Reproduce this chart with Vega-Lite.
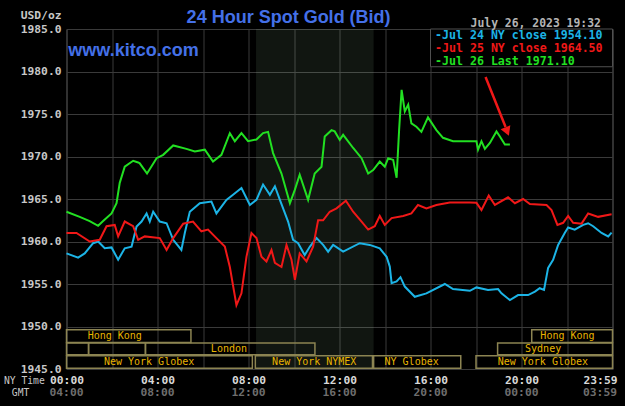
{
"$schema": "https://vega.github.io/schema/vega-lite/v6.json",
"width": 546, "height": 340,
"autosize": "none",
"padding": {"left": 66.5, "top": 29, "right": 12.5, "bottom": 37},
"background": "#000000",
"config": {
  "view": {"stroke": "#505050", "strokeWidth": 1},
  "axis": {"domain": false, "ticks": false, "gridColor": "#3a3a3a", "gridWidth": 1, "labelFont": "DejaVu Sans Mono", "labelFontWeight": "bold", "labelFontSize": 11.3, "titleFont": "DejaVu Sans Mono"}
},
"datasets": {
  "prices": [
{"s":"Jul 24","h":0.00,"p":1958.6},{"s":"Jul 24","h":0.51,"p":1958.1},{"s":"Jul 24","h":0.80,"p":1958.6},{"s":"Jul 24","h":1.17,"p":1959.8},{"s":"Jul 24","h":1.39,"p":1960.0},{"s":"Jul 24","h":1.68,"p":1959.2},{"s":"Jul 24","h":1.98,"p":1959.3},{"s":"Jul 24","h":2.27,"p":1957.85},{"s":"Jul 24","h":2.56,"p":1959.2},{"s":"Jul 24","h":2.86,"p":1959.4},{"s":"Jul 24","h":3.08,"p":1961.75},{"s":"Jul 24","h":3.30,"p":1962.35},{"s":"Jul 24","h":3.52,"p":1963.3},{"s":"Jul 24","h":3.66,"p":1962.35},{"s":"Jul 24","h":3.81,"p":1963.5},{"s":"Jul 24","h":4.10,"p":1962.35},{"s":"Jul 24","h":4.40,"p":1962.15},{"s":"Jul 24","h":4.69,"p":1960.2},{"s":"Jul 24","h":5.05,"p":1959.0},{"s":"Jul 24","h":5.20,"p":1961.0},{"s":"Jul 24","h":5.42,"p":1963.5},{"s":"Jul 24","h":5.86,"p":1964.5},{"s":"Jul 24","h":6.37,"p":1964.7},{"s":"Jul 24","h":6.59,"p":1963.3},{"s":"Jul 24","h":7.03,"p":1964.9},{"s":"Jul 24","h":7.32,"p":1965.5},{"s":"Jul 24","h":7.69,"p":1966.3},{"s":"Jul 24","h":8.06,"p":1964.3},{"s":"Jul 24","h":8.35,"p":1964.9},{"s":"Jul 24","h":8.64,"p":1966.7},{"s":"Jul 24","h":8.94,"p":1965.5},{"s":"Jul 24","h":9.16,"p":1966.5},{"s":"Jul 24","h":9.38,"p":1964.9},{"s":"Jul 24","h":9.74,"p":1962.35},{"s":"Jul 24","h":9.96,"p":1960.2},{"s":"Jul 24","h":10.18,"p":1959.8},{"s":"Jul 24","h":10.47,"p":1958.4},{"s":"Jul 24","h":10.70,"p":1959.4},{"s":"Jul 24","h":10.99,"p":1960.4},{"s":"Jul 24","h":11.28,"p":1959.6},{"s":"Jul 24","h":11.50,"p":1958.8},{"s":"Jul 24","h":11.72,"p":1959.6},{"s":"Jul 24","h":12.16,"p":1958.8},{"s":"Jul 24","h":12.89,"p":1959.8},{"s":"Jul 24","h":13.33,"p":1959.6},{"s":"Jul 24","h":13.77,"p":1959.2},{"s":"Jul 24","h":14.07,"p":1958.2},{"s":"Jul 24","h":14.21,"p":1957.05},{"s":"Jul 24","h":14.29,"p":1955.1},{"s":"Jul 24","h":14.51,"p":1955.3},{"s":"Jul 24","h":14.68,"p":1955.8},{"s":"Jul 24","h":14.87,"p":1954.7},{"s":"Jul 24","h":15.31,"p":1953.5},{"s":"Jul 24","h":15.82,"p":1953.9},{"s":"Jul 24","h":16.63,"p":1955.0},{"s":"Jul 24","h":16.99,"p":1954.4},{"s":"Jul 24","h":17.73,"p":1954.2},{"s":"Jul 24","h":18.02,"p":1954.6},{"s":"Jul 24","h":18.53,"p":1954.3},{"s":"Jul 24","h":18.97,"p":1954.4},{"s":"Jul 24","h":19.12,"p":1953.9},{"s":"Jul 24","h":19.49,"p":1953.1},{"s":"Jul 24","h":19.85,"p":1953.7},{"s":"Jul 24","h":20.29,"p":1953.7},{"s":"Jul 24","h":20.59,"p":1954.1},{"s":"Jul 24","h":20.80,"p":1954.5},{"s":"Jul 24","h":20.99,"p":1954.3},{"s":"Jul 24","h":21.17,"p":1956.9},{"s":"Jul 24","h":21.39,"p":1957.85},{"s":"Jul 24","h":21.61,"p":1959.6},{"s":"Jul 24","h":21.90,"p":1961.0},{"s":"Jul 24","h":22.05,"p":1961.65},{"s":"Jul 24","h":22.34,"p":1961.4},{"s":"Jul 24","h":22.71,"p":1961.95},{"s":"Jul 24","h":22.93,"p":1962.15},{"s":"Jul 24","h":23.15,"p":1961.8},{"s":"Jul 24","h":23.52,"p":1961.0},{"s":"Jul 24","h":23.81,"p":1960.6},{"s":"Jul 24","h":23.96,"p":1961.05},
{"s":"Jul 25","h":0.00,"p":1961.0},{"s":"Jul 25","h":0.44,"p":1961.0},{"s":"Jul 25","h":1.02,"p":1960.0},{"s":"Jul 25","h":1.46,"p":1960.2},{"s":"Jul 25","h":1.76,"p":1961.8},{"s":"Jul 25","h":2.12,"p":1961.95},{"s":"Jul 25","h":2.27,"p":1960.6},{"s":"Jul 25","h":2.56,"p":1962.35},{"s":"Jul 25","h":2.93,"p":1961.8},{"s":"Jul 25","h":3.15,"p":1960.2},{"s":"Jul 25","h":3.44,"p":1960.6},{"s":"Jul 25","h":4.10,"p":1960.4},{"s":"Jul 25","h":4.40,"p":1959.0},{"s":"Jul 25","h":4.69,"p":1960.4},{"s":"Jul 25","h":5.13,"p":1962.1},{"s":"Jul 25","h":5.56,"p":1962.35},{"s":"Jul 25","h":5.93,"p":1961.2},{"s":"Jul 25","h":6.22,"p":1961.4},{"s":"Jul 25","h":6.59,"p":1960.4},{"s":"Jul 25","h":6.96,"p":1959.4},{"s":"Jul 25","h":7.18,"p":1957.0},{"s":"Jul 25","h":7.47,"p":1952.5},{"s":"Jul 25","h":7.69,"p":1953.9},{"s":"Jul 25","h":7.91,"p":1958.2},{"s":"Jul 25","h":8.13,"p":1961.0},{"s":"Jul 25","h":8.35,"p":1960.4},{"s":"Jul 25","h":8.57,"p":1958.2},{"s":"Jul 25","h":8.79,"p":1957.65},{"s":"Jul 25","h":9.01,"p":1959.0},{"s":"Jul 25","h":9.16,"p":1957.5},{"s":"Jul 25","h":9.45,"p":1957.0},{"s":"Jul 25","h":9.67,"p":1959.6},{"s":"Jul 25","h":9.89,"p":1957.85},{"s":"Jul 25","h":10.04,"p":1955.5},{"s":"Jul 25","h":10.25,"p":1958.6},{"s":"Jul 25","h":10.55,"p":1957.65},{"s":"Jul 25","h":10.84,"p":1959.4},{"s":"Jul 25","h":11.06,"p":1962.5},{"s":"Jul 25","h":11.28,"p":1962.5},{"s":"Jul 25","h":11.57,"p":1963.5},{"s":"Jul 25","h":11.87,"p":1963.9},{"s":"Jul 25","h":12.28,"p":1964.8},{"s":"Jul 25","h":12.60,"p":1963.5},{"s":"Jul 25","h":12.97,"p":1962.35},{"s":"Jul 25","h":13.26,"p":1961.4},{"s":"Jul 25","h":13.55,"p":1961.8},{"s":"Jul 25","h":13.77,"p":1963.0},{"s":"Jul 25","h":13.99,"p":1961.95},{"s":"Jul 25","h":14.29,"p":1962.75},{"s":"Jul 25","h":14.80,"p":1963.0},{"s":"Jul 25","h":15.16,"p":1963.3},{"s":"Jul 25","h":15.45,"p":1964.3},{"s":"Jul 25","h":15.82,"p":1963.9},{"s":"Jul 25","h":16.26,"p":1964.3},{"s":"Jul 25","h":16.85,"p":1964.6},{"s":"Jul 25","h":17.73,"p":1964.6},{"s":"Jul 25","h":18.02,"p":1964.55},{"s":"Jul 25","h":18.24,"p":1963.7},{"s":"Jul 25","h":18.56,"p":1965.4},{"s":"Jul 25","h":18.83,"p":1964.3},{"s":"Jul 25","h":19.41,"p":1965.2},{"s":"Jul 25","h":19.71,"p":1964.5},{"s":"Jul 25","h":20.07,"p":1965.0},{"s":"Jul 25","h":20.37,"p":1964.4},{"s":"Jul 25","h":21.10,"p":1964.3},{"s":"Jul 25","h":21.32,"p":1963.7},{"s":"Jul 25","h":21.58,"p":1961.95},{"s":"Jul 25","h":21.83,"p":1962.2},{"s":"Jul 25","h":22.05,"p":1963.0},{"s":"Jul 25","h":22.27,"p":1962.2},{"s":"Jul 25","h":22.64,"p":1962.1},{"s":"Jul 25","h":22.93,"p":1963.3},{"s":"Jul 25","h":23.37,"p":1962.9},{"s":"Jul 25","h":23.96,"p":1963.2},
{"s":"Jul 26","h":0.00,"p":1963.5},{"s":"Jul 26","h":0.58,"p":1962.9},{"s":"Jul 26","h":1.02,"p":1962.4},{"s":"Jul 26","h":1.39,"p":1961.85},{"s":"Jul 26","h":1.61,"p":1962.4},{"s":"Jul 26","h":1.98,"p":1963.3},{"s":"Jul 26","h":2.20,"p":1964.5},{"s":"Jul 26","h":2.34,"p":1966.9},{"s":"Jul 26","h":2.56,"p":1968.8},{"s":"Jul 26","h":2.93,"p":1969.5},{"s":"Jul 26","h":3.15,"p":1969.3},{"s":"Jul 26","h":3.22,"p":1969.2},{"s":"Jul 26","h":3.54,"p":1968.0},{"s":"Jul 26","h":3.96,"p":1969.8},{"s":"Jul 26","h":4.25,"p":1970.2},{"s":"Jul 26","h":4.69,"p":1971.3},{"s":"Jul 26","h":5.27,"p":1970.9},{"s":"Jul 26","h":5.64,"p":1970.6},{"s":"Jul 26","h":6.08,"p":1970.8},{"s":"Jul 26","h":6.44,"p":1969.4},{"s":"Jul 26","h":6.81,"p":1970.2},{"s":"Jul 26","h":7.18,"p":1972.75},{"s":"Jul 26","h":7.40,"p":1971.8},{"s":"Jul 26","h":7.69,"p":1972.75},{"s":"Jul 26","h":7.98,"p":1971.8},{"s":"Jul 26","h":8.35,"p":1972.0},{"s":"Jul 26","h":8.64,"p":1972.75},{"s":"Jul 26","h":8.86,"p":1972.9},{"s":"Jul 26","h":9.08,"p":1970.4},{"s":"Jul 26","h":9.45,"p":1968.0},{"s":"Jul 26","h":9.82,"p":1964.5},{"s":"Jul 26","h":10.04,"p":1966.1},{"s":"Jul 26","h":10.25,"p":1967.85},{"s":"Jul 26","h":10.47,"p":1966.1},{"s":"Jul 26","h":10.62,"p":1964.9},{"s":"Jul 26","h":10.91,"p":1968.0},{"s":"Jul 26","h":11.21,"p":1968.8},{"s":"Jul 26","h":11.35,"p":1972.35},{"s":"Jul 26","h":11.65,"p":1973.1},{"s":"Jul 26","h":11.79,"p":1972.95},{"s":"Jul 26","h":12.01,"p":1971.95},{"s":"Jul 26","h":12.16,"p":1972.55},{"s":"Jul 26","h":12.60,"p":1971.0},{"s":"Jul 26","h":12.97,"p":1969.8},{"s":"Jul 26","h":13.26,"p":1968.0},{"s":"Jul 26","h":13.48,"p":1968.4},{"s":"Jul 26","h":13.77,"p":1969.4},{"s":"Jul 26","h":13.99,"p":1968.8},{"s":"Jul 26","h":14.14,"p":1969.8},{"s":"Jul 26","h":14.36,"p":1969.6},{"s":"Jul 26","h":14.51,"p":1967.5},{"s":"Jul 26","h":14.62,"p":1973.1},{"s":"Jul 26","h":14.73,"p":1977.85},{"s":"Jul 26","h":14.87,"p":1975.3},{"s":"Jul 26","h":15.02,"p":1976.1},{"s":"Jul 26","h":15.16,"p":1973.9},{"s":"Jul 26","h":15.38,"p":1973.5},{"s":"Jul 26","h":15.60,"p":1972.9},{"s":"Jul 26","h":15.89,"p":1974.6},{"s":"Jul 26","h":16.26,"p":1973.1},{"s":"Jul 26","h":16.55,"p":1972.2},{"s":"Jul 26","h":16.99,"p":1971.8},{"s":"Jul 26","h":17.73,"p":1971.8},{"s":"Jul 26","h":18.02,"p":1971.8},{"s":"Jul 26","h":18.09,"p":1970.8},{"s":"Jul 26","h":18.24,"p":1971.8},{"s":"Jul 26","h":18.39,"p":1970.9},{"s":"Jul 26","h":18.61,"p":1971.6},{"s":"Jul 26","h":18.90,"p":1972.95},{"s":"Jul 26","h":19.05,"p":1972.35},{"s":"Jul 26","h":19.27,"p":1971.4},{"s":"Jul 26","h":19.49,"p":1971.4}
  ],
  "pit": [{"name": "NYMEX", "h": 8.33, "h2": 13.5, "lo": 1945, "hi": 1985}],
  "sessions": [
    {"row": 1, "name": "Hong Kong", "h": 0, "h2": 5.47, "mid": 2.12},
    {"row": 1, "name": "Hong Kong", "h": 20.45, "h2": 24, "mid": 22.02},
    {"row": 2, "name": "", "h": 0, "h2": 0.97, "mid": 0.5},
    {"row": 2, "name": "", "h": 0.97, "h2": 3.47, "mid": 2.2},
    {"row": 2, "name": "London", "h": 3.47, "h2": 10.92, "mid": 7.14},
    {"row": 2, "name": "Sydney", "h": 18.95, "h2": 24, "mid": 20.95},
    {"row": 3, "name": "New York Globex", "h": 0, "h2": 8.17, "mid": 3.63},
    {"row": 3, "name": "New York NYMEX", "h": 8.3, "h2": 13.45, "mid": 10.89},
    {"row": 3, "name": "NY Globex", "h": 13.5, "h2": 17.33, "mid": 15.17},
    {"row": 3, "name": "New York Globex", "h": 18.0, "h2": 24, "mid": 20.94}
  ],
  "gmt": [
    {"h": 0, "t": "04:00"}, {"h": 4, "t": "08:00"}, {"h": 8, "t": "12:00"}, {"h": 12, "t": "16:00"},
    {"h": 16, "t": "20:00"}, {"h": 20, "t": "00:00"}, {"h": 24, "t": "03:59"}
  ]
},
"layer": [
  {
    "data": {"name": "pit"},
    "mark": {"type": "rect", "color": "#c8ffc8", "opacity": 0.085},
    "encoding": {
      "x": {"field": "h", "type": "quantitative", "scale": {"domain": [0, 24], "nice": false, "zero": false},
        "axis": {"values": [0,2,4,6,8,10,12,14,16,18,20,22,24], "grid": true, "labelFlush": false, "labelOverlap": false, "labelBound": false,
          "labelExpr": "datum.value % 4 != 0 ? '' : datum.value == 24 ? '23:59' : (datum.value < 10 ? '0' : '') + datum.value + ':00'",
          "labelColor": "#d8d8d8", "labelPadding": 11, "labelBaseline": "middle",
          "labelOffset": {"condition": {"test": "datum.value == 24", "value": -12.5}, "value": 0},
          "title": "NY Time", "titleX": -42.7, "titleY": 11, "titleAlign": "center", "titleBaseline": "middle", "titleFontSize": 9.7, "titleColor": "#c8c8c8", "titleFontWeight": "normal"}},
      "x2": {"field": "h2"},
      "y": {"field": "lo", "type": "quantitative", "scale": {"domain": [1945, 1985], "nice": false, "zero": false},
        "axis": {"values": [1945,1950,1955,1960,1965,1970,1975,1980,1985], "format": ".1f", "grid": true, "labelColor": "#c8c8c8", "labelPadding": 5.5,
          "title": "USD/oz", "titleAngle": 0, "titleX": -5.5, "titleY": -13.2, "titleAlign": "right", "titleBaseline": "middle", "titleColor": "#c8c8c8", "titleFontWeight": "bold", "titleFontSize": 11.3}},
      "y2": {"field": "hi"}
    }
  },
  {
    "data": {"name": "prices"},
    "mark": {"type": "line", "strokeWidth": 2},
    "encoding": {
      "x": {"field": "h", "type": "quantitative"},
      "y": {"field": "p", "type": "quantitative"},
      "color": {"field": "s", "type": "nominal", "scale": {"domain": ["Jul 24", "Jul 25", "Jul 26"], "range": ["#1cb4e6", "#f01818", "#22e022"]}, "legend": null}
    }
  },
  {
    "data": {"values": [{"t": ""}]},
    "mark": {"type": "rect", "fill": "#000000", "stroke": "#505050", "strokeWidth": 1},
    "encoding": {
      "x": {"datum": 16, "type": "quantitative"},
      "x2": {"datum": 24},
      "y": {"datum": 1985, "type": "quantitative"},
      "y2": {"datum": 1980.56}
    }
  },
  {
    "data": {"values": [{"t": "-Jul 24 NY close 1954.10"}]},
    "mark": {"type": "text", "align": "left", "baseline": "alphabetic", "font": "DejaVu Sans Mono", "fontWeight": "bold", "fontSize": 11.6, "color": "#1cb4e6"},
    "encoding": {"x": {"datum": 16.2, "type": "quantitative"}, "y": {"datum": 1983.79, "type": "quantitative"}, "text": {"field": "t"}}
  },
  {
    "data": {"values": [{"t": "-Jul 25 NY close 1964.50"}]},
    "mark": {"type": "text", "align": "left", "baseline": "alphabetic", "font": "DejaVu Sans Mono", "fontWeight": "bold", "fontSize": 11.6, "color": "#f01818"},
    "encoding": {"x": {"datum": 16.2, "type": "quantitative"}, "y": {"datum": 1982.29, "type": "quantitative"}, "text": {"field": "t"}}
  },
  {
    "data": {"values": [{"t": "-Jul 26 Last 1971.10"}]},
    "mark": {"type": "text", "align": "left", "baseline": "alphabetic", "font": "DejaVu Sans Mono", "fontWeight": "bold", "fontSize": 11.6, "color": "#22e022"},
    "encoding": {"x": {"datum": 16.2, "type": "quantitative"}, "y": {"datum": 1980.8, "type": "quantitative"}, "text": {"field": "t"}}
  },
  {
    "data": {"values": [{"t": "July 26, 2023 19:32"}]},
    "mark": {"type": "text", "align": "right", "baseline": "alphabetic", "font": "DejaVu Sans Mono", "fontWeight": "bold", "fontSize": 11.4, "color": "#b4b4b4"},
    "encoding": {"x": {"datum": 23.49, "type": "quantitative"}, "y": {"datum": 1985.27, "type": "quantitative"}, "text": {"field": "t"}}
  },
  {
    "data": {"values": [{"t": "24 Hour Spot Gold (Bid)"}]},
    "mark": {"type": "text", "align": "left", "baseline": "alphabetic", "font": "Liberation Sans", "fontWeight": "bold", "fontSize": 18, "color": "#4470e8"},
    "encoding": {"x": {"datum": 5.28, "type": "quantitative"}, "y": {"datum": 1985.67, "type": "quantitative"}, "text": {"field": "t"}}
  },
  {
    "data": {"values": [{"t": "www.kitco.com"}]},
    "mark": {"type": "text", "align": "left", "baseline": "alphabetic", "font": "Liberation Sans", "fontWeight": "bold", "fontSize": 18, "color": "#4470e8"},
    "encoding": {"x": {"datum": 0.08, "type": "quantitative"}, "y": {"datum": 1981.88, "type": "quantitative"}, "text": {"field": "t"}}
  },
  {
    "data": {"values": [{"t": "arrow"}]},
    "mark": {"type": "rule", "color": "#f01818", "strokeWidth": 2.5},
    "encoding": {"x": {"datum": 18.42, "type": "quantitative"}, "y": {"datum": 1979.35, "type": "quantitative"}, "x2": {"datum": 19.3}, "y2": {"datum": 1973.47}}
  },
  {
    "data": {"values": [{"t": "arrow"}]},
    "mark": {"type": "point", "shape": "triangle-down", "filled": true, "size": 110, "angle": 338, "color": "#f01818", "opacity": 1},
    "encoding": {"x": {"datum": 19.37, "type": "quantitative"}, "y": {"datum": 1972.95, "type": "quantitative"}}
  },
  {
    "data": {"name": "sessions"},
    "transform": [{"filter": "datum.row == 1"}],
    "layer": [
      {"mark": {"type": "rect", "filled": false, "color": "#8c8452", "strokeWidth": 1.5},
       "encoding": {"x": {"field": "h", "type": "quantitative"}, "x2": {"field": "h2"}, "y": {"datum": 1949.62, "type": "quantitative"}, "y2": {"datum": 1948.12}}},
      {"mark": {"type": "text", "font": "DejaVu Sans Mono", "fontSize": 10, "color": "#e8b400", "align": "center", "baseline": "middle"},
       "encoding": {"x": {"field": "mid", "type": "quantitative"}, "y": {"datum": 1948.87, "type": "quantitative"}, "text": {"field": "name"}}}
    ]
  },
  {
    "data": {"name": "sessions"},
    "transform": [{"filter": "datum.row == 2"}],
    "layer": [
      {"mark": {"type": "rect", "filled": false, "color": "#8c8452", "strokeWidth": 1.5},
       "encoding": {"x": {"field": "h", "type": "quantitative"}, "x2": {"field": "h2"}, "y": {"datum": 1948.05, "type": "quantitative"}, "y2": {"datum": 1946.67}}},
      {"mark": {"type": "text", "font": "DejaVu Sans Mono", "fontSize": 10, "color": "#e8b400", "align": "center", "baseline": "middle"},
       "encoding": {"x": {"field": "mid", "type": "quantitative"}, "y": {"datum": 1947.36, "type": "quantitative"}, "text": {"field": "name"}}}
    ]
  },
  {
    "data": {"name": "sessions"},
    "transform": [{"filter": "datum.row == 3"}],
    "layer": [
      {"mark": {"type": "rect", "filled": false, "color": "#8c8452", "strokeWidth": 1.5},
       "encoding": {"x": {"field": "h", "type": "quantitative"}, "x2": {"field": "h2"}, "y": {"datum": 1946.55, "type": "quantitative"}, "y2": {"datum": 1945.1}}},
      {"mark": {"type": "text", "font": "DejaVu Sans Mono", "fontSize": 10, "color": "#e8b400", "align": "center", "baseline": "middle"},
       "encoding": {"x": {"field": "mid", "type": "quantitative"}, "y": {"datum": 1945.83, "type": "quantitative"}, "text": {"field": "name"}}}
    ]
  },
  {
    "data": {"name": "gmt"},
    "transform": [{"filter": "datum.h < 24"}],
    "mark": {"type": "text", "font": "DejaVu Sans Mono", "fontWeight": "bold", "fontSize": 11.3, "color": "#6e6e6e", "align": "center", "baseline": "middle"},
    "encoding": {"x": {"field": "h", "type": "quantitative"}, "y": {"datum": 1942.21, "type": "quantitative"}, "text": {"field": "t"}}
  },
  {
    "data": {"name": "gmt"},
    "transform": [{"filter": "datum.h >= 24"}],
    "mark": {"type": "text", "font": "DejaVu Sans Mono", "fontWeight": "bold", "fontSize": 11.3, "color": "#6e6e6e", "align": "center", "baseline": "middle", "dx": -12.5},
    "encoding": {"x": {"field": "h", "type": "quantitative"}, "y": {"datum": 1942.21, "type": "quantitative"}, "text": {"field": "t"}}
  },
  {
    "data": {"values": [{"t": "GMT"}]},
    "mark": {"type": "text", "font": "DejaVu Sans Mono", "fontSize": 9.7, "color": "#c8c8c8", "align": "center", "baseline": "middle"},
    "encoding": {"x": {"datum": -2.02, "type": "quantitative"}, "y": {"datum": 1942.21, "type": "quantitative"}, "text": {"field": "t"}}
  }
]
}
